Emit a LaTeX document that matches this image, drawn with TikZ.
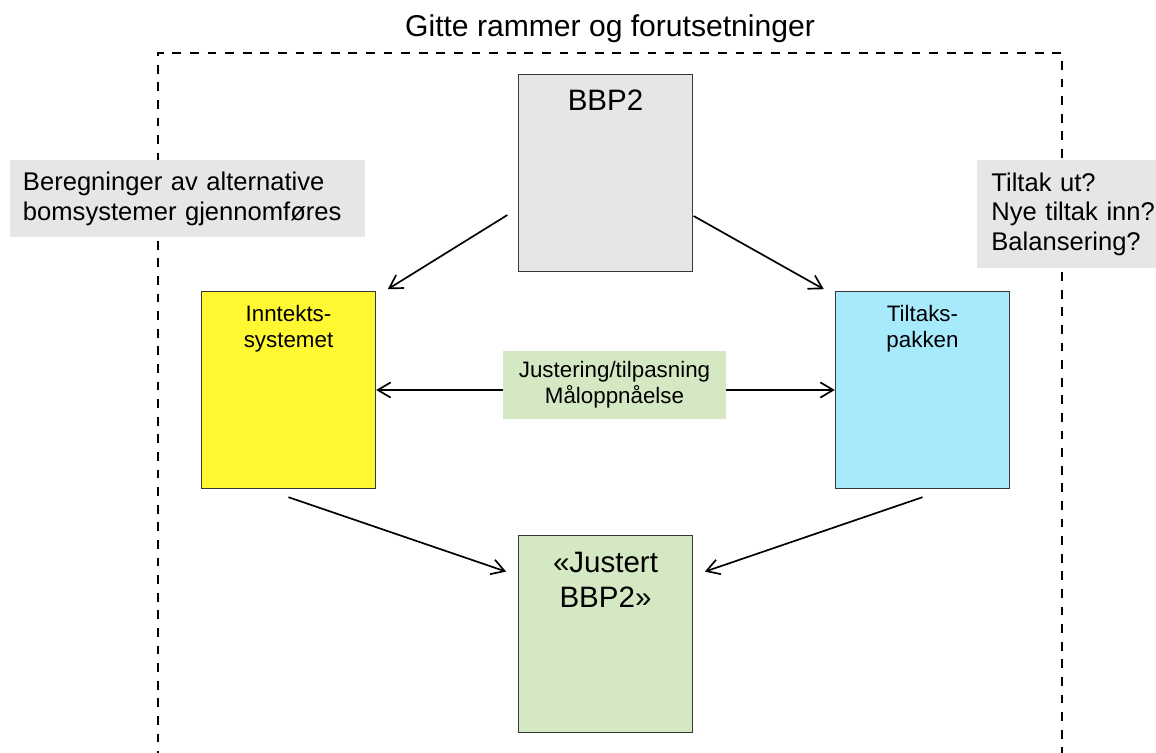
\documentclass[tikz,border=0pt]{standalone}
\usepackage{fontspec}
\setmainfont{Liberation Sans}
\usetikzlibrary{arrows.meta}
\definecolor{boxgray}{HTML}{E6E6E6}
\definecolor{boxyellow}{HTML}{FFF833}
\definecolor{boxcyan}{HTML}{A6EAFC}
\definecolor{boxgreen}{HTML}{D5E8C4}
\definecolor{edgegray}{HTML}{383838}

\begin{document}
\begin{tikzpicture}[
  box/.style={draw=edgegray,line width=1pt,rectangle,minimum width=4.35cm,minimum height=4.925cm,inner sep=0pt},
  note/.style={fill=boxgray,rectangle,align=left,inner ysep=0pt,font=\fontsize{18.2}{21}\selectfont},
  arr/.style={line width=1.2pt,-{Straight Barb[length=3.2mm,width=3.8mm]}},
  big/.style={font=\fontsize{21}{24.6}\selectfont},
  small/.style={font=\fontsize{15.9}{18.2}\selectfont}]
\useasboundingbox (0,0) rectangle (28.9,-18.825);
\clip (0,0) rectangle (28.9,-18.825);

\node[big,font=\fontsize{21.4}{24.6}\selectfont,anchor=base] (title) at (15.25,-0.9175) {Gitte rammer og forutsetninger};
\draw[line width=1.3pt,dash pattern=on 0.22cm off 0.22cm] (3.95,-19) -- (3.95,-1.3175) -- (26.54,-1.3175) -- (26.54,-19);

\node[note,anchor=north west,inner xsep=0.33cm,text width=8.2275cm,minimum height=1.925cm] (calc) at (0.2375,-4.0) {Beregninger av alternative\\bomsystemer gjennomføres};
\node[note,anchor=north west,inner xsep=0.36cm,text width=4.25cm,minimum height=2.7cm] (quest) at (24.4175,-4.0) {Tiltak ut?\\Nye tiltak inn?\\Balansering?};

\node[box,fill=boxgray,label={[big,anchor=north,inner sep=0pt,yshift=-0.39cm]north:BBP2}] (bbp) at (15.1375,-4.325) {};
\node[box,fill=boxyellow,label={[small,align=center,anchor=north,inner sep=0pt,yshift=-0.36cm]north:{Inntekts-\\systemet}}] (inn) at (7.2125,-9.75) {};
\node[box,fill=boxcyan,label={[small,align=center,anchor=north,inner sep=0pt,yshift=-0.36cm]north:{Tiltaks-\\pakken}}] (tilt) at (23.0625,-9.75) {};
\node[box,fill=boxgreen,label={[big,align=center,anchor=north,inner sep=0pt,yshift=-0.44cm]north:{«Justert\\BBP2»}}] (jbbp) at (15.1375,-15.846) {};
\node[fill=boxgreen,small,align=center,minimum width=5.56cm,minimum height=1.7075cm,inner sep=0pt] (just) at (15.3625,-9.621) {Justering/tilpasning\\Måloppnåelse};

\draw[arr] ([shift={(-0.26,-1.05)}]bbp.west) -- ([shift={(0.29,0.04)}]inn.north east);
\draw[arr] ([shift={(0.01,-1.075)}]bbp.east) -- ([shift={(-0.275,0.04)}]tilt.north west);
\draw[arr] (inn.east -| just.west) -- (inn.east);
\draw[arr] (tilt.west -| just.east) -- (tilt.west);
\draw[arr] ([yshift=-0.2cm]inn.south) -- ([shift={(-0.29,-0.925)}]jbbp.north west);
\draw[arr] ([yshift=-0.2cm]tilt.south) -- ([shift={(0.29,-0.925)}]jbbp.north east);
\end{tikzpicture}
\end{document}
